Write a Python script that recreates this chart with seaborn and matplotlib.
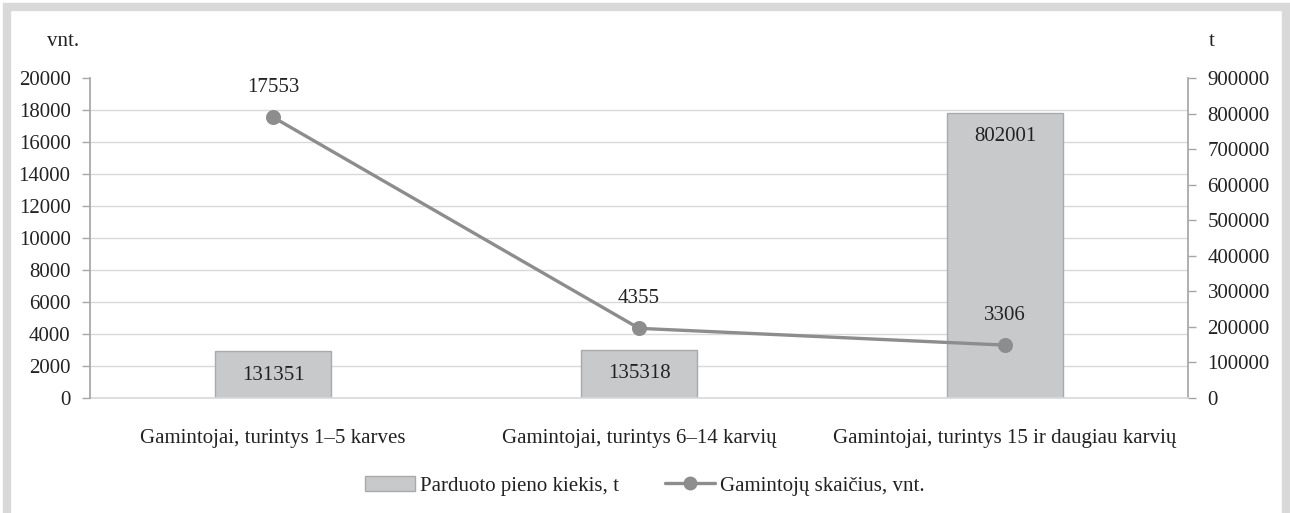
import matplotlib
matplotlib.use("Agg")
import matplotlib.pyplot as plt
from matplotlib.patches import Patch, Rectangle
from matplotlib.lines import Line2D
from matplotlib.ticker import MultipleLocator
import seaborn as sns

categories = ["Gamintojai, turintys 1–5 karves",
              "Gamintojai, turintys 6–14 karvių",
              "Gamintojai, turintys 15 ir daugiau karvių"]
milk_t = [131351, 135318, 802001]
producers = [17553, 4355, 3306]
bar_label = "Parduoto pieno kiekis, t"
line_label = "Gamintojų skaičius, vnt."

sns.set_theme(style="white")
plt.rcParams["font.family"] = ["Liberation Serif", "DejaVu Serif"]
plt.rcParams["text.color"] = "#222222"

bar_col = "#c8c9cb"
bar_edge = "#a9aaac"
line_col = "#8d8d8d"
grid_col = "#d9d9d9"
spine_col = "#a6a6a6"
fs = 15

fig = plt.figure(figsize=(12.9, 5.13), dpi=100)
axb = fig.add_axes([90 / 1290, 1 - 398 / 513, (1188 - 90) / 1290, 320 / 513])
axl = axb.twinx()

# bars on the right (t) scale
sns.barplot(x=categories, y=milk_t, ax=axb, color=bar_col, edgecolor=bar_edge,
            linewidth=1, width=0.317, saturation=1)
axb.set_ylim(0, 900000)
axb.yaxis.tick_right()
axb.yaxis.set_major_locator(MultipleLocator(100000))
axb.yaxis.set_minor_locator(MultipleLocator(90000))
axb.grid(which="minor", axis="y", color=grid_col, lw=1)
axb.grid(which="major", axis="y", visible=False)
axb.set_axisbelow(True)
axb.tick_params(axis="y", which="major", right=True, left=False, length=6, width=1,
                color=spine_col, pad=8, labelsize=fs, labelcolor="#222222")
axb.tick_params(axis="y", which="minor", length=0)
axb.tick_params(axis="x", length=0, pad=22, labelsize=fs, labelcolor="#222222")
for s in ["top", "left"]:
    axb.spines[s].set_visible(False)
axb.spines["right"].set_color(spine_col)
axb.spines["bottom"].set_color(grid_col)
for i, v in enumerate(milk_t):
    axb.annotate(f"{v}", (i, v), xytext=(0, -24), textcoords="offset pixels",
                 ha="center", va="center", fontsize=fs)

# line on the left (vnt.) scale
sns.pointplot(x=categories, y=producers, ax=axl, color=line_col, markers="o",
              markersize=9, linewidth=2.4)
axl.set_ylim(0, 20000)
axl.set_xlim(-0.5, 2.5)
axl.yaxis.tick_left()
axl.yaxis.set_major_locator(MultipleLocator(2000))
axl.tick_params(axis="y", left=True, right=False, length=6, width=1, color=spine_col,
                pad=8, labelsize=fs, labelcolor="#222222")
for s in ["top", "right", "bottom"]:
    axl.spines[s].set_visible(False)
axl.spines["left"].set_color(spine_col)
axl.set_ylabel("")
for i, v in enumerate(producers):
    axl.annotate(f"{v}", (i, v), xytext=(0, 30), textcoords="offset pixels",
                 ha="center", va="center", fontsize=fs)
axb.set_xlim(-0.5, 2.5)

fig.text(63 / 1290, 1 - 42 / 513, "vnt.", ha="center", va="center", fontsize=fs)
fig.text(1212 / 1290, 1 - 42 / 513, "t", ha="center", va="center", fontsize=fs)

handles = [Patch(facecolor=bar_col, edgecolor=bar_edge, lw=1),
           Line2D([], [], color=line_col, lw=2.4, marker="o", markersize=9)]
fig.legend(handles, [bar_label, line_label], loc="center", bbox_to_anchor=(0.5, 1 - 486 / 513),
           ncol=2, frameon=False, fontsize=fs, handlelength=2.4, handletextpad=0.25,
           columnspacing=2.2)

fig.patches.append(Rectangle((7 / 1290, -0.1), (1286 - 7) / 1290, 1.1 - 7 / 513,
                             transform=fig.transFigure, fill=False, edgecolor=grid_col,
                             lw=6, zorder=-1))

fig.savefig("out.png", dpi=100, facecolor="white")
